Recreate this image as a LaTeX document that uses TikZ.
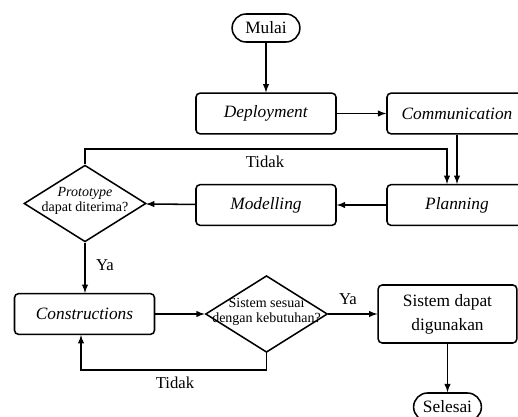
\documentclass[tikz,border=0pt]{standalone}
\usepackage{fontspec}
\setmainfont{Liberation Serif}
\usetikzlibrary{shapes.geometric,shapes.misc,arrows}

\tikzset{
  proc/.style={draw,rounded corners=3pt,minimum width=105pt,minimum height=30.5pt,align=center,font=\fontsize{13}{18}\selectfont},
  term/.style={draw,rounded rectangle,minimum width=57.5pt,minimum height=21pt,font=\fontsize{13}{15}\selectfont},
  decision/.style={draw,diamond,inner sep=0pt,minimum width=91.5pt,minimum height=57.5pt},
  dtext/.style={align=center,inner sep=0pt,font=\fontsize{10.5}{11.5}\selectfont},
  flow/.style={-latex},
  lbl/.style={font=\fontsize{12.5}{14}\selectfont}
}

\begin{document}
\begin{tikzpicture}[x=0.75pt,y=-0.75pt,line width=1.15pt]
          \useasboundingbox (0,0) rectangle (518,417);
          \node[term] (mulai) at (266,28) {Mulai};
          \node[proc] (depl) at (266,113.5) {\textit{Deployment}};
          \node[proc] (comm) at (457,113.5) {\textit{Communication}};
          \node[proc] (plan) at (457,205) {\textit{Planning}};
          \node[proc] (model) at (266,205) {\textit{Modelling}};
          \node[decision] (proto) at (85,203.5) {};
          \node[dtext] (prototxt) at (85,201) {\textit{Prototype}\\dapat diterima?};
          \node[proc] (cons) at (84.5,314) {\textit{Constructions}};
          \node[decision] (sesuai) at (266.5,314) {};
          \node[dtext] (sesuaitxt) at (266.5,312) {Sistem sesuai\\dengan kebutuhan?};
          \node[proc,minimum width=104pt,minimum height=43.5pt] (guna) at (447.5,314) {Sistem dapat\\digunakan};
          \node[term] (selesai) at (447.5,407) {Selesai};
          \coordinate (tidakatas) at (447,149);
          \coordinate (tidakbawah) at (81,370);
              \draw[flow] (mulai) -- (depl);
              \draw[flow] (depl) -- (comm);
              \draw[flow] (comm.south) -- (plan.north);
              \draw[flow] (plan) -- (model);
              \draw[flow] (model) -- (proto);
              \draw[flow] (proto.north) |- (tidakatas) -- (tidakatas |- plan.north);
              \draw[flow] (proto.south) -- (proto.south |- cons.north);
              \draw[flow] (cons) -- (sesuai);
              \draw[flow] (sesuai) -- (guna);
              \draw[flow] (sesuai.south) |- (tidakbawah) -- (tidakbawah |- cons.south);
              \draw[flow] (guna.south) -- (selesai.north);
              \node[lbl] (ltidak1) at (265,162) {Tidak};
              \node[lbl] (lya1) at (105,265) {Ya};
              \node[lbl] (lya2) at (348,299) {Ya};
              \node[lbl] (ltidak2) at (175,383) {Tidak};
        \end{tikzpicture}
\end{document}
